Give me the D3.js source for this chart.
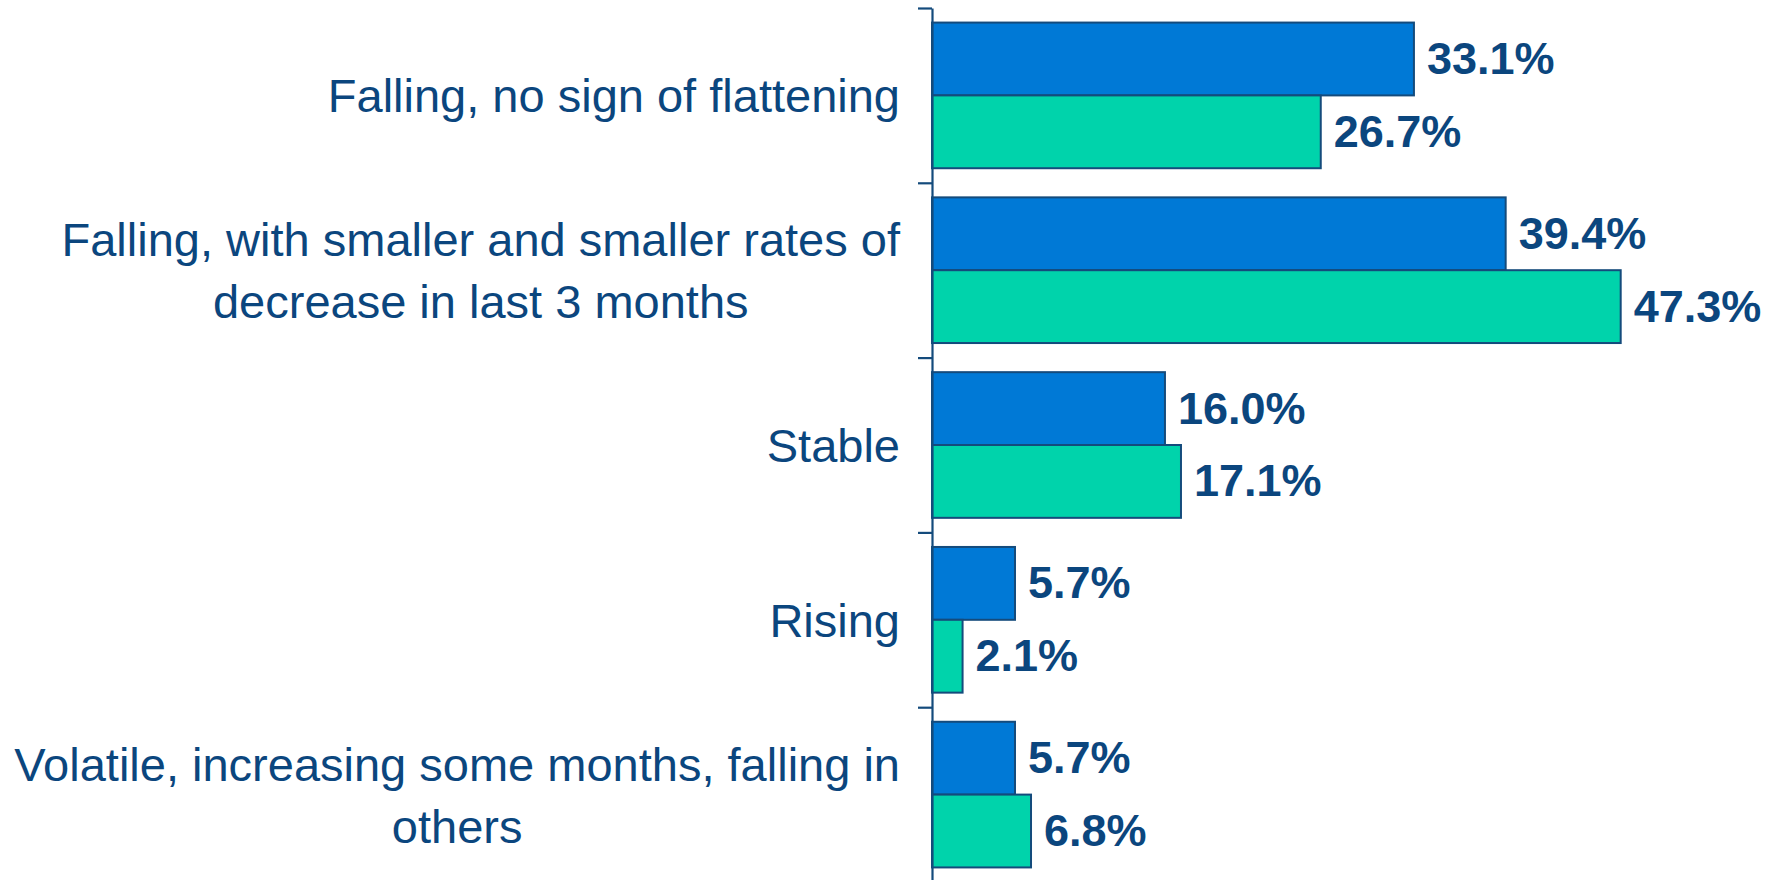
<!DOCTYPE html>
<html>
<head>
<meta charset="utf-8">
<script src="https://cdn.jsdelivr.net/npm/d3@7"></script>
<style>
html,body{margin:0;padding:0;background:#fff;}
svg{display:block;}
</style>
</head>
<body>
<svg id="chart" width="1777" height="880"></svg>
<script>
const categories = [
  ["Falling, no sign of flattening"],
  ["Falling, with smaller and smaller rates of", "decrease in last 3 months"],
  ["Stable"],
  ["Rising"],
  ["Volatile, increasing some months, falling in", "others"]
];
const seriesNames = ["Series A", "Series B"];
const seriesA = [33.1, 39.4, 16.0, 5.7, 5.7];
const seriesB = [26.7, 47.3, 17.1, 2.1, 6.8];
const valueLabels = [["33.1%","26.7%"],["39.4%","47.3%"],["16.0%","17.1%"],["5.7%","2.1%"],["5.7%","6.8%"]];

const colors = ["#0079D6", "#00D3AB"];
const navy = "#0B467E";
const strokeCol = "#144B7C";

const svg = d3.select("#chart");
const axisX = 932;
const x = d3.scaleLinear().domain([0, 50]).range([axisX, axisX + 728]);
const catIdx = d3.range(categories.length);
const y0 = d3.scaleBand().domain(catIdx).range([8, 882]).padding(0);
const y1 = d3.scaleBand().domain(seriesNames).range([0, y0.bandwidth()]).paddingInner(0).paddingOuter(0.2);

const data = catIdx.map(i => ({i, vals: [seriesA[i], seriesB[i]]}));

// bars
const g = svg.append("g");
data.forEach(d => {
  d.vals.forEach((v, s) => {
    g.append("rect")
      .attr("x", x(0))
      .attr("y", y0(d.i) + y1(seriesNames[s]))
      .attr("width", x(v) - x(0))
      .attr("height", y1.bandwidth())
      .attr("fill", colors[s])
      .attr("stroke", strokeCol)
      .attr("stroke-width", 2);
    g.append("text")
      .attr("x", x(v) + 13)
      .attr("y", y0(d.i) + y1(seriesNames[s]) + y1.bandwidth() / 2 + 15)
      .attr("font-family", "Liberation Sans, Arial, sans-serif")
      .attr("font-weight", "bold")
      .attr("font-size", 45)
      .attr("fill", navy)
      .text(valueLabels[d.i][s]);
  });
});

// axis line with ticks at band boundaries
const axis = d3.axisLeft(d3.scaleLinear().domain([0, categories.length]).range([8, 882]))
  .tickValues(d3.range(categories.length + 1))
  .tickFormat("")
  .tickSizeOuter(0)
  .tickSizeInner(14);
const ag = svg.append("g").attr("transform", `translate(${axisX},0)`).call(axis);
ag.selectAll("path,line").attr("stroke", strokeCol).attr("stroke-width", 2.2);

// category labels
const rightEdge = 900;
const lineH = 62;
const lg = svg.append("g")
  .attr("font-family", "Liberation Sans, Arial, sans-serif")
  .attr("font-size", 47)
  .attr("fill", navy);
categories.forEach((lines, i) => {
  const cy = y0(i) + y0.bandwidth() / 2;
  const t = lg.append("text").attr("text-anchor", "middle");
  const n = lines.length;
  const tspans = lines.map((ln, k) =>
    t.append("tspan")
      .attr("y", cy + (k - (n - 1) / 2) * lineH + 17)
      .text(ln));
  const w = d3.max(tspans, ts => ts.node().getComputedTextLength());
  const cx = rightEdge - w / 2;
  tspans.forEach(ts => ts.attr("x", cx));
});
</script>
</body>
</html>
